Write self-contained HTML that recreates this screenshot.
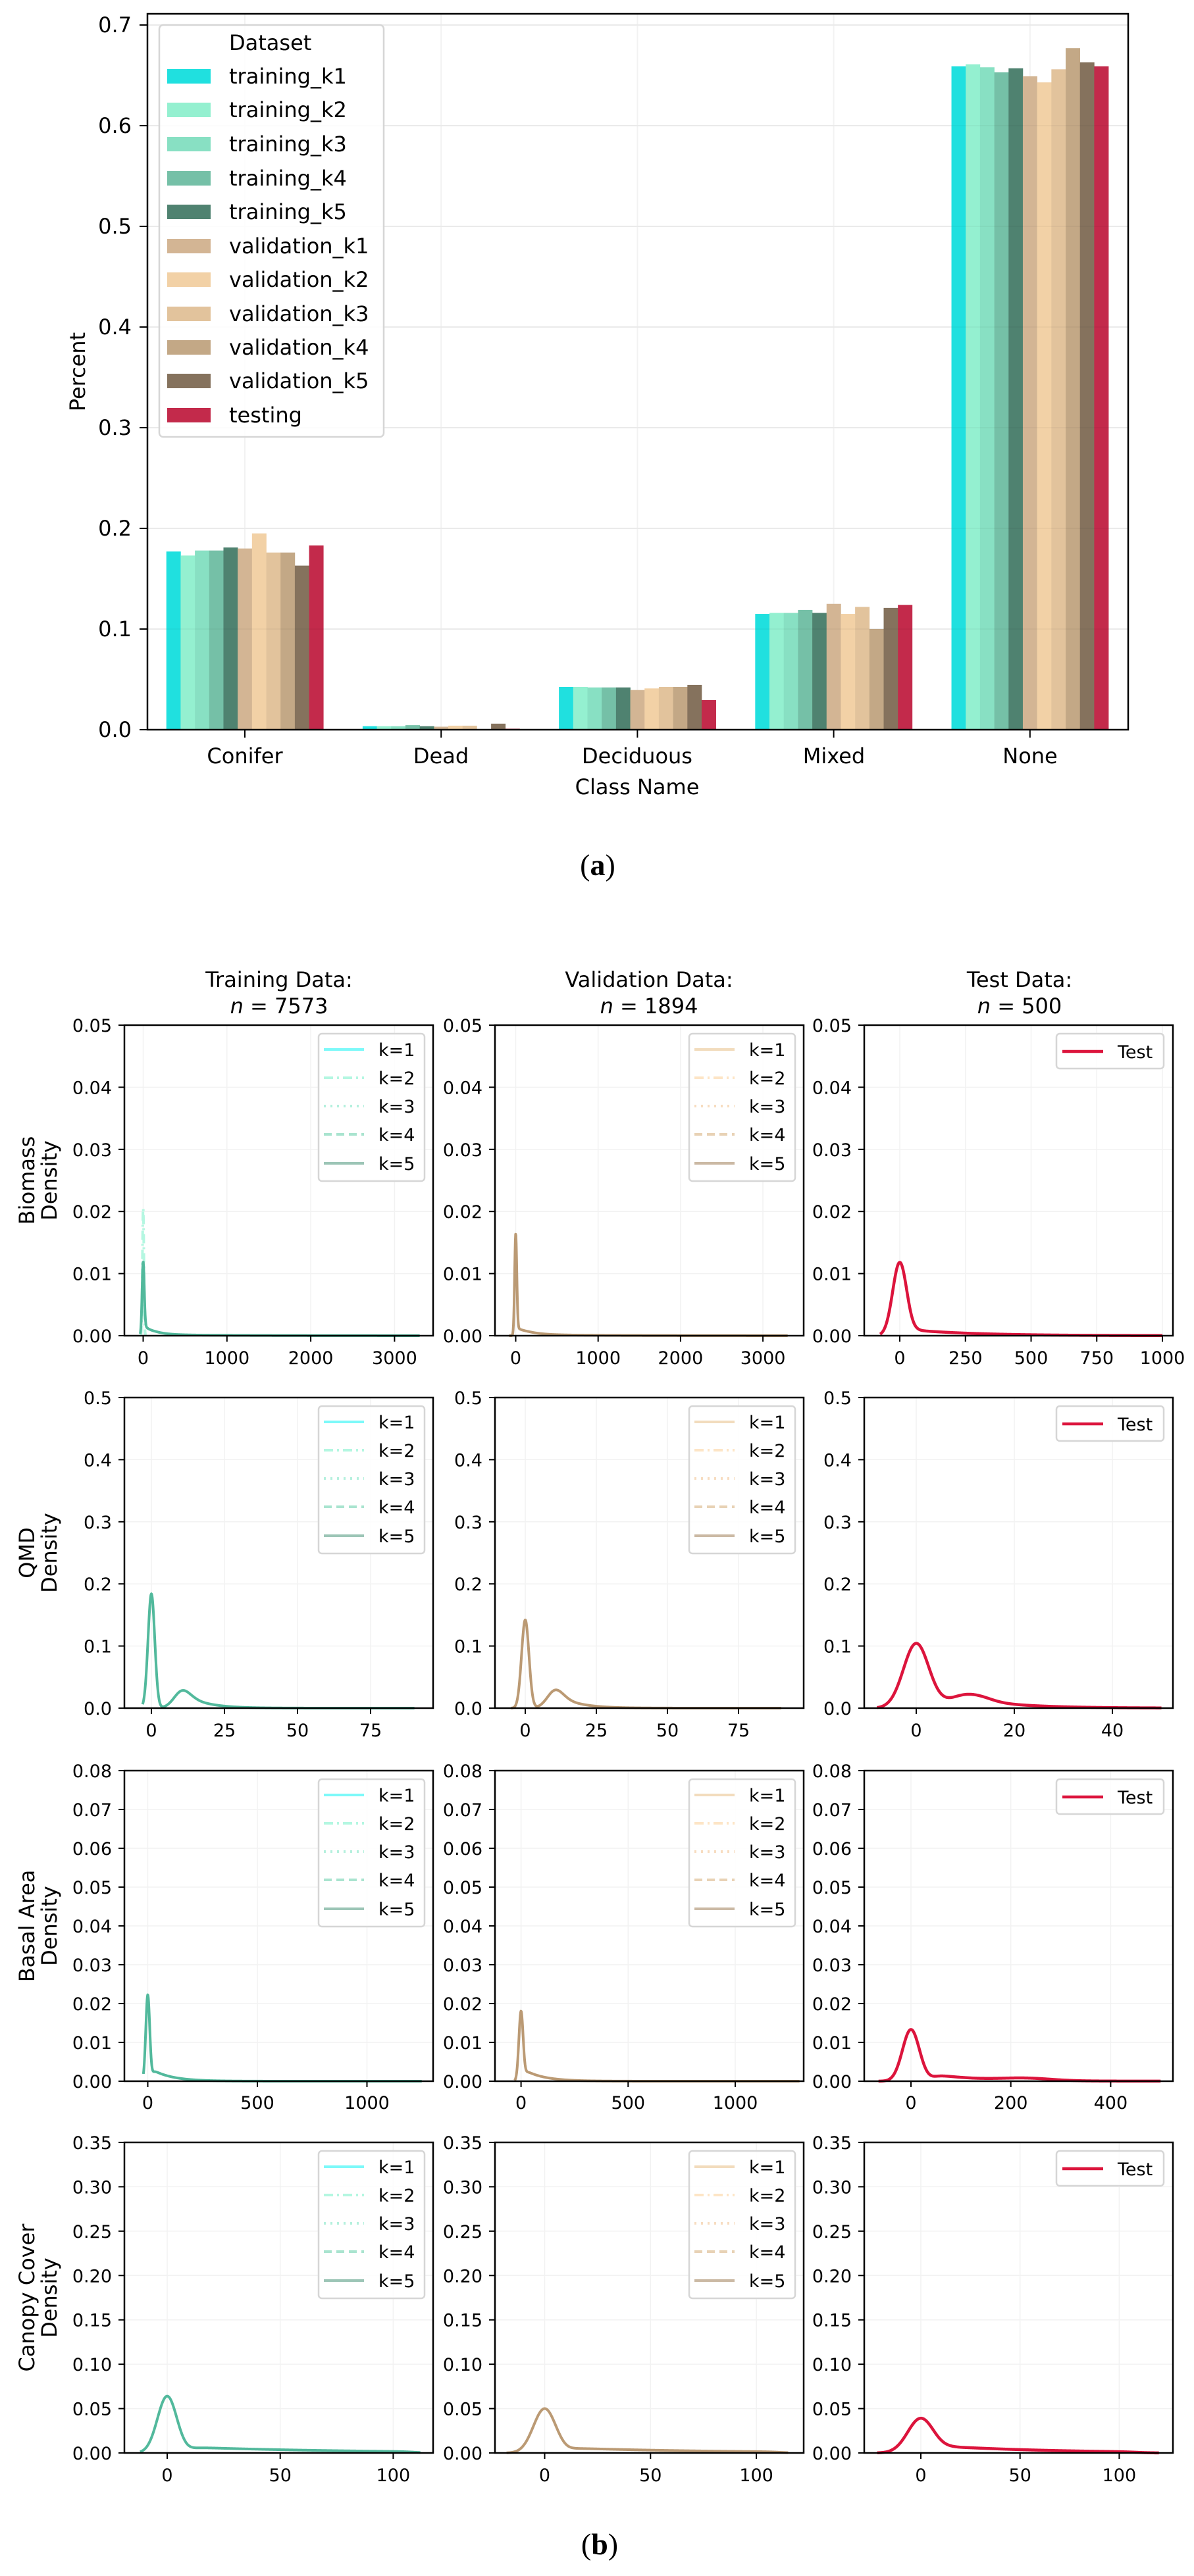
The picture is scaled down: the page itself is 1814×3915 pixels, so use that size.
<!DOCTYPE html>
<html><head><meta charset="utf-8"><style>
html,body{margin:0;padding:0;background:#fff}
svg{display:block}
text{font-family:"DejaVu Sans","Liberation Sans",sans-serif;fill:#000}
.t32{font-size:32px}
.t27{font-size:27px}
</style></head><body>
<svg id="s" xmlns="http://www.w3.org/2000/svg" width="1814" height="3915" viewBox="0 0 1814 3915">
<g id="bg"></g>
<g id="fg"></g>
<g class="t32" text-anchor="end">
<text x="200" y="1120">0.0</text><text x="200" y="967">0.1</text><text x="200" y="814">0.2</text><text x="200" y="661">0.3</text><text x="200" y="508">0.4</text><text x="200" y="355">0.5</text><text x="200" y="202">0.6</text><text x="200" y="49">0.7</text>
</g>
<g class="t32" text-anchor="middle">
<text x="372" y="1160">Conifer</text><text x="670" y="1160">Dead</text><text x="968" y="1160">Deciduous</text><text x="1267" y="1160">Mixed</text><text x="1565" y="1160">None</text>
<text x="968" y="1207">Class Name</text>
<text transform="translate(129,565) rotate(-90)">Percent</text>
</g>
<g id="leg"><rect x="242" y="38" width="341" height="626" rx="6" fill="#fff" fill-opacity="0.85" stroke="#d6d6d6" stroke-width="2.5"/></g>
<g class="t32">
<text x="348" y="76">Dataset</text>
<text x="348" y="127">training_k1</text><text x="348" y="178">training_k2</text><text x="348" y="230">training_k3</text><text x="348" y="282">training_k4</text><text x="348" y="333">training_k5</text>
<text x="348" y="385">validation_k1</text><text x="348" y="436">validation_k2</text><text x="348" y="488">validation_k3</text><text x="348" y="539">validation_k4</text><text x="348" y="590">validation_k5</text><text x="348" y="642">testing</text>
</g>
<text x="908" y="1330" text-anchor="middle" style="font-family:'Liberation Serif',serif;font-size:46px">(<tspan font-weight="bold">a</tspan>)</text>
<text x="911" y="3882" text-anchor="middle" style="font-family:'Liberation Serif',serif;font-size:46px">(<tspan font-weight="bold">b</tspan>)</text>

<g class="t32" text-anchor="middle">
<text x="424" y="1500">Training Data:</text><text x="424" y="1540"><tspan font-style="italic">n</tspan> = 7573</text>
<text x="986" y="1500">Validation Data:</text><text x="986" y="1540"><tspan font-style="italic">n</tspan> = 1894</text>
<text x="1549" y="1500">Test Data:</text><text x="1549" y="1540"><tspan font-style="italic">n</tspan> = 500</text>
<text transform="translate(52,1794) rotate(-90)">Biomass</text><text transform="translate(86,1794) rotate(-90)">Density</text>
<text transform="translate(52,2360) rotate(-90)">QMD</text><text transform="translate(86,2360) rotate(-90)">Density</text>
<text transform="translate(52,2927) rotate(-90)">Basal Area</text><text transform="translate(86,2927) rotate(-90)">Density</text>
<text transform="translate(52,3492) rotate(-90)">Canopy Cover</text><text transform="translate(86,3492) rotate(-90)">Density</text>
</g>

<g class="t27" text-anchor="end" transform="translate(0,1558)">
<text x="170" y="10">0.05</text><text x="170" y="104.4">0.04</text><text x="170" y="198.8">0.03</text><text x="170" y="293.2">0.02</text><text x="170" y="387.6">0.01</text><text x="170" y="482">0.00</text>
<text x="733" y="10">0.05</text><text x="733" y="104.4">0.04</text><text x="733" y="198.8">0.03</text><text x="733" y="293.2">0.02</text><text x="733" y="387.6">0.01</text><text x="733" y="482">0.00</text>
<text x="1294" y="10">0.05</text><text x="1294" y="104.4">0.04</text><text x="1294" y="198.8">0.03</text><text x="1294" y="293.2">0.02</text><text x="1294" y="387.6">0.01</text><text x="1294" y="482">0.00</text>
</g>
<g class="t27" text-anchor="end" transform="translate(0,2124)">
<text x="170" y="10">0.5</text><text x="170" y="104.4">0.4</text><text x="170" y="198.8">0.3</text><text x="170" y="293.2">0.2</text><text x="170" y="387.6">0.1</text><text x="170" y="482">0.0</text>
<text x="733" y="10">0.5</text><text x="733" y="104.4">0.4</text><text x="733" y="198.8">0.3</text><text x="733" y="293.2">0.2</text><text x="733" y="387.6">0.1</text><text x="733" y="482">0.0</text>
<text x="1294" y="10">0.5</text><text x="1294" y="104.4">0.4</text><text x="1294" y="198.8">0.3</text><text x="1294" y="293.2">0.2</text><text x="1294" y="387.6">0.1</text><text x="1294" y="482">0.0</text>
</g>
<g class="t27" text-anchor="end" transform="translate(0,2691)">
<text x="170" y="10">0.08</text><text x="170" y="69">0.07</text><text x="170" y="128">0.06</text><text x="170" y="187">0.05</text><text x="170" y="246">0.04</text><text x="170" y="305">0.03</text><text x="170" y="364">0.02</text><text x="170" y="423">0.01</text><text x="170" y="482">0.00</text>
<text x="733" y="10">0.08</text><text x="733" y="69">0.07</text><text x="733" y="128">0.06</text><text x="733" y="187">0.05</text><text x="733" y="246">0.04</text><text x="733" y="305">0.03</text><text x="733" y="364">0.02</text><text x="733" y="423">0.01</text><text x="733" y="482">0.00</text>
<text x="1294" y="10">0.08</text><text x="1294" y="69">0.07</text><text x="1294" y="128">0.06</text><text x="1294" y="187">0.05</text><text x="1294" y="246">0.04</text><text x="1294" y="305">0.03</text><text x="1294" y="364">0.02</text><text x="1294" y="423">0.01</text><text x="1294" y="482">0.00</text>
</g>
<g class="t27" text-anchor="end" transform="translate(0,3256)">
<text x="170" y="10">0.35</text><text x="170" y="77.4">0.30</text><text x="170" y="144.9">0.25</text><text x="170" y="212.3">0.20</text><text x="170" y="279.7">0.15</text><text x="170" y="347.1">0.10</text><text x="170" y="414.6">0.05</text><text x="170" y="482">0.00</text>
<text x="733" y="10">0.35</text><text x="733" y="77.4">0.30</text><text x="733" y="144.9">0.25</text><text x="733" y="212.3">0.20</text><text x="733" y="279.7">0.15</text><text x="733" y="347.1">0.10</text><text x="733" y="414.6">0.05</text><text x="733" y="482">0.00</text>
<text x="1294" y="10">0.35</text><text x="1294" y="77.4">0.30</text><text x="1294" y="144.9">0.25</text><text x="1294" y="212.3">0.20</text><text x="1294" y="279.7">0.15</text><text x="1294" y="347.1">0.10</text><text x="1294" y="414.6">0.05</text><text x="1294" y="482">0.00</text>
</g>

<g class="t27" text-anchor="middle">
<text x="217.5" y="2073">0</text><text x="344.8" y="2073">1000</text><text x="472.1" y="2073">2000</text><text x="599.4" y="2073">3000</text>
<text x="783.5" y="2073">0</text><text x="908.7" y="2073">1000</text><text x="1033.9" y="2073">2000</text><text x="1159.1" y="2073">3000</text>
<text x="1367" y="2073">0</text><text x="1466.8" y="2073">250</text><text x="1566.5" y="2073">500</text><text x="1666.3" y="2073">750</text><text x="1766" y="2073">1000</text>
<text x="230" y="2639">0</text><text x="341" y="2639">25</text><text x="452" y="2639">50</text><text x="563" y="2639">75</text>
<text x="798" y="2639">0</text><text x="906" y="2639">25</text><text x="1014" y="2639">50</text><text x="1122" y="2639">75</text>
<text x="1392" y="2639">0</text><text x="1541" y="2639">20</text><text x="1690" y="2639">40</text>
<text x="224.5" y="3205">0</text><text x="391" y="3205">500</text><text x="557.5" y="3205">1000</text>
<text x="791.6" y="3205">0</text><text x="954.3" y="3205">500</text><text x="1117" y="3205">1000</text>
<text x="1384" y="3205">0</text><text x="1535.7" y="3205">200</text><text x="1687.4" y="3205">400</text>
<text x="254" y="3771">0</text><text x="425.7" y="3771">50</text><text x="597.4" y="3771">100</text>
<text x="827.5" y="3771">0</text><text x="988.3" y="3771">50</text><text x="1149.1" y="3771">100</text>
<text x="1399" y="3771">0</text><text x="1549.7" y="3771">50</text><text x="1700.4" y="3771">100</text>
</g>

<g id="legtext" class="t27">
<g transform="translate(189,1558)"><text x="386" y="47">k=1</text><text x="386" y="90">k=2</text><text x="386" y="133">k=3</text><text x="386" y="176">k=4</text><text x="386" y="220">k=5</text></g>
<g transform="translate(752,1558)"><text x="386" y="47">k=1</text><text x="386" y="90">k=2</text><text x="386" y="133">k=3</text><text x="386" y="176">k=4</text><text x="386" y="220">k=5</text></g>
<g transform="translate(1313,1558)"><text x="385" y="50">Test</text></g>
<g transform="translate(189,2124)"><text x="386" y="47">k=1</text><text x="386" y="90">k=2</text><text x="386" y="133">k=3</text><text x="386" y="176">k=4</text><text x="386" y="220">k=5</text></g>
<g transform="translate(752,2124)"><text x="386" y="47">k=1</text><text x="386" y="90">k=2</text><text x="386" y="133">k=3</text><text x="386" y="176">k=4</text><text x="386" y="220">k=5</text></g>
<g transform="translate(1313,2124)"><text x="385" y="50">Test</text></g>
<g transform="translate(189,2691)"><text x="386" y="47">k=1</text><text x="386" y="90">k=2</text><text x="386" y="133">k=3</text><text x="386" y="176">k=4</text><text x="386" y="220">k=5</text></g>
<g transform="translate(752,2691)"><text x="386" y="47">k=1</text><text x="386" y="90">k=2</text><text x="386" y="133">k=3</text><text x="386" y="176">k=4</text><text x="386" y="220">k=5</text></g>
<g transform="translate(1313,2691)"><text x="385" y="50">Test</text></g>
<g transform="translate(189,3256)"><text x="386" y="47">k=1</text><text x="386" y="90">k=2</text><text x="386" y="133">k=3</text><text x="386" y="176">k=4</text><text x="386" y="220">k=5</text></g>
<g transform="translate(752,3256)"><text x="386" y="47">k=1</text><text x="386" y="90">k=2</text><text x="386" y="133">k=3</text><text x="386" y="176">k=4</text><text x="386" y="220">k=5</text></g>
<g transform="translate(1313,3256)"><text x="385" y="50">Test</text></g>
</g>
</svg>
<script>
(function(){
var NS="http://www.w3.org/2000/svg";
var bg=document.getElementById('bg'), fg=document.getElementById('fg'), leg=document.getElementById('leg');
function el(p,tag,a){var e=document.createElementNS(NS,tag);for(var k in a)e.setAttribute(k,a[k]);p.appendChild(e);return e;}
var GRID="#f2f2f2";
var cols=["#20e0df","#94f0d0","#88e0c3","#75c0a7","#4f8270","#d3b594","#f2d1a6","#e2c39c","#c3a886","#85725d","#c32a4b"];
var vals=[
[0.177,0.173,0.178,0.178,0.181,0.180,0.195,0.176,0.176,0.163,0.183],
[0.0035,0.0035,0.0035,0.0045,0.0035,0.003,0.004,0.004,0.0005,0.006,0.001],
[0.0425,0.0425,0.042,0.042,0.042,0.0394,0.041,0.0425,0.0425,0.0445,0.0294],
[0.115,0.116,0.116,0.119,0.116,0.125,0.115,0.122,0.100,0.121,0.124],
[0.659,0.661,0.658,0.653,0.657,0.649,0.643,0.656,0.677,0.663,0.659]];
var L=224,R=1714,T=21,B=1109,per=1530;
for(var k=0;k<=7;k++){var y=B-153*k;el(bg,'line',{x1:L,x2:R,y1:y,y2:y,stroke:GRID,'stroke-width':2});}
for(var i=0;i<5;i++){var cx=372+298.2*i;el(bg,'line',{x1:cx,x2:cx,y1:T,y2:B,stroke:GRID,'stroke-width':2});}
var bw=298.2*0.8/11;
for(var i=0;i<5;i++){var c=372+298.2*i;for(var j=0;j<11;j++){var h=vals[i][j]*per;el(bg,'rect',{x:(c-119.28+j*bw).toFixed(2),y:(B-h).toFixed(2),width:(bw+0.3).toFixed(2),height:h.toFixed(2),fill:cols[j]});}}
for(var k=0;k<=7;k++){var y=B-153*k;el(bg,'line',{x1:L,x2:R,y1:y,y2:y,stroke:'rgba(0,0,0,0.03)','stroke-width':2});el(bg,'line',{x1:L-12,x2:L,y1:y,y2:y,stroke:'#000','stroke-width':2});}
for(var i=0;i<5;i++){var cx=372+298.2*i;el(bg,'line',{x1:cx,x2:cx,y1:B,y2:B+12,stroke:'#000','stroke-width':2});}
el(bg,'rect',{x:L,y:T,width:R-L,height:B-T,fill:'none',stroke:'#000','stroke-width':2.5});
var ly=[116,167,219,271,322,374,425,477,528,579,631];
for(var j=0;j<11;j++)el(leg,'rect',{x:254,y:ly[j]-11,width:66,height:22,fill:cols[j]});
function g(x,m,s){var z=(x-m)/s;return Math.exp(-0.5*z*z);}
function sg(x){return 1/(1+Math.exp(-x));}
var lefts=[189,752,1313],tops=[1558,2124,2691,3256],W=469,H=472;
var ymax=[0.05,0.5,0.08,0.35], nt=[5,5,8,7];
var xs=[
[[28.5,127.3/1000,[0,1000,2000,3000]],[31.5,125.2/1000,[0,1000,2000,3000]],[54,99.75/250,[0,250,500,750,1000]]],
[[41,111/25,[0,25,50,75]],[46,108/25,[0,25,50,75]],[79,149/20,[0,20,40]]],
[[35.5,166.5/500,[0,500,1000]],[39.6,162.7/500,[0,500,1000]],[71,151.7/200,[0,200,400]]],
[[65,171.7/50,[0,50,100]],[75.5,160.8/50,[0,50,100]],[86,150.7/50,[0,50,100]]]];
var fns=[
[[function(x){return .0118*g(x,0,13)+.0016*sg((x-15)/6)*Math.exp(-(x-15)/120)+.0002*sg((x-100)/30)*Math.exp(-(x-100)/800);},-35,3300],
 [function(x){return .0163*g(x,0,13)+.0013*sg((x-15)/6)*Math.exp(-(x-15)/150)+.0002*sg((x-100)/30)*Math.exp(-(x-100)/800);},-80,3300],
 [function(x){return .0118*g(x,0,27)+.0009*sg((x-55)/10)*Math.exp(-(x-55)/250);},-75,1000]],
[[function(x){return .184*g(x,0,1.15)+.026*g(x,10.5,2.8)+.016*sg((x-14)/1.5)*Math.exp(-(x-14)/7);},-3,90],
 [function(x){return .142*g(x,0,1.3)+.027*g(x,10.5,2.8)+.015*sg((x-14)/1.5)*Math.exp(-(x-14)/7);},-5,90],
 [function(x){return .104*g(x,0,2.6)+.02*g(x,10,3.5)+.012*sg((x-13)/1.5)*Math.exp(-(x-13)/10);},-8,50]],
[[function(x){return .0222*g(x,0,9)+.003*sg((x-20)/5)*Math.exp(-(x-20)/90);},-20,1250],
 [function(x){return .018*g(x,0,10)+.0028*sg((x-20)/5)*Math.exp(-(x-20)/90);},-30,1300],
 [function(x){return .0133*g(x,0,17)+.0018*sg((x-45)/8)*Math.exp(-(x-45)/90)+.0006*g(x,230,50);},-65,500]],
[[function(x){return .064*g(x,0,4.3)+.0065*sg((x-10)/2)*Math.exp(-(x-10)/70)*sg((110-x)/3);},-12,112],
 [function(x){return .05*g(x,0,5.3)+.0055*sg((x-12)/2)*Math.exp(-(x-12)/70)*sg((112-x)/3);},-18,115],
 [function(x){return .039*g(x,0,6.6)+.0075*sg((x-12)/3)*Math.exp(-(x-12)/55)*sg((110-x)/4);},-22,120]]];
var trC=["#7df9f9","#b4f7e1","#b4f0dd","#a9e4cf","#9cc5b6"], vaC=["#f2dcbd","#fde5c6","#f7dcc0","#e8d2b5","#cbb9a4"];
var dashes=["", "14,6,3,6","3,7","12,7",""];
for(var r=0;r<4;r++)for(var c=0;c<3;c++){
 var l=lefts[c],t=tops[r],b=t+H;
 var xi=xs[r][c];
 for(var k=0;k<=nt[r];k++){var y=b-H*k/nt[r];el(bg,'line',{x1:l,x2:l+W,y1:y,y2:y,stroke:GRID,'stroke-width':1.5});el(fg,'line',{x1:l-9,x2:l,y1:y,y2:y,stroke:'#000','stroke-width':2});}
 xi[2].forEach(function(v){var x=l+xi[0]+v*xi[1];el(bg,'line',{x1:x,x2:x,y1:t,y2:b,stroke:GRID,'stroke-width':1.5});el(fg,'line',{x1:x,x2:x,y1:b,y2:b+9,stroke:'#000','stroke-width':2});});
 var f=fns[r][c],a=f[1],e=f[2],N=900,d="";
 for(var i=0;i<=N;i++){var x=a+(e-a)*i/N;var px=l+xi[0]+x*xi[1];var py=b-f[0](x)/ymax[r]*H;d+=(i?"L":"M")+px.toFixed(2)+" "+py.toFixed(2);}
 var col=c==0?"#52b99c":(c==1?"#bb9a74":"#dc143c");
 if(r==0&&c==0){var d2="";for(var i=0;i<=300;i++){var x=-30+60*i/300;var px=l+xi[0]+x*xi[1];var py=b-.0205*g(x,0,9)/ymax[r]*H;d2+=(i?"L":"M")+px.toFixed(2)+" "+py.toFixed(2);}el(bg,'path',{d:d2,fill:'none',stroke:'#b4f7e1','stroke-width':4,'stroke-dasharray':'14,6,3,6'});}
 el(bg,'path',{d:d,fill:'none',stroke:col,'stroke-width':c==2?4.5:4,'stroke-linejoin':'round'});
 el(fg,'rect',{x:l,y:t,width:W,height:H,fill:'none',stroke:'#000','stroke-width':2.5});
 if(c<2){el(fg,'rect',{x:l+295,y:t+13,width:161,height:224,rx:5,fill:'#fff','fill-opacity':0.85,stroke:'#d6d6d6','stroke-width':2.5});
  var cc=c==0?trC:vaC;var oy=[37,80,123,166,210];
  for(var k=0;k<5;k++){var a2={x1:l+303,x2:l+364,y1:t+oy[k],y2:t+oy[k],stroke:cc[k],'stroke-width':4};if(dashes[k])a2['stroke-dasharray']=dashes[k];el(fg,'line',a2);}
 } else {el(fg,'rect',{x:l+292,y:t+13,width:163,height:53,rx:5,fill:'#fff','fill-opacity':0.85,stroke:'#d6d6d6','stroke-width':2.5});
  el(fg,'line',{x1:l+301,x2:l+363,y1:t+40,y2:t+40,stroke:'#dc143c','stroke-width':4.5});}
}
var s=document.getElementById('s');s.appendChild(document.getElementById('legtext'));
})();
</script>
</body></html>
